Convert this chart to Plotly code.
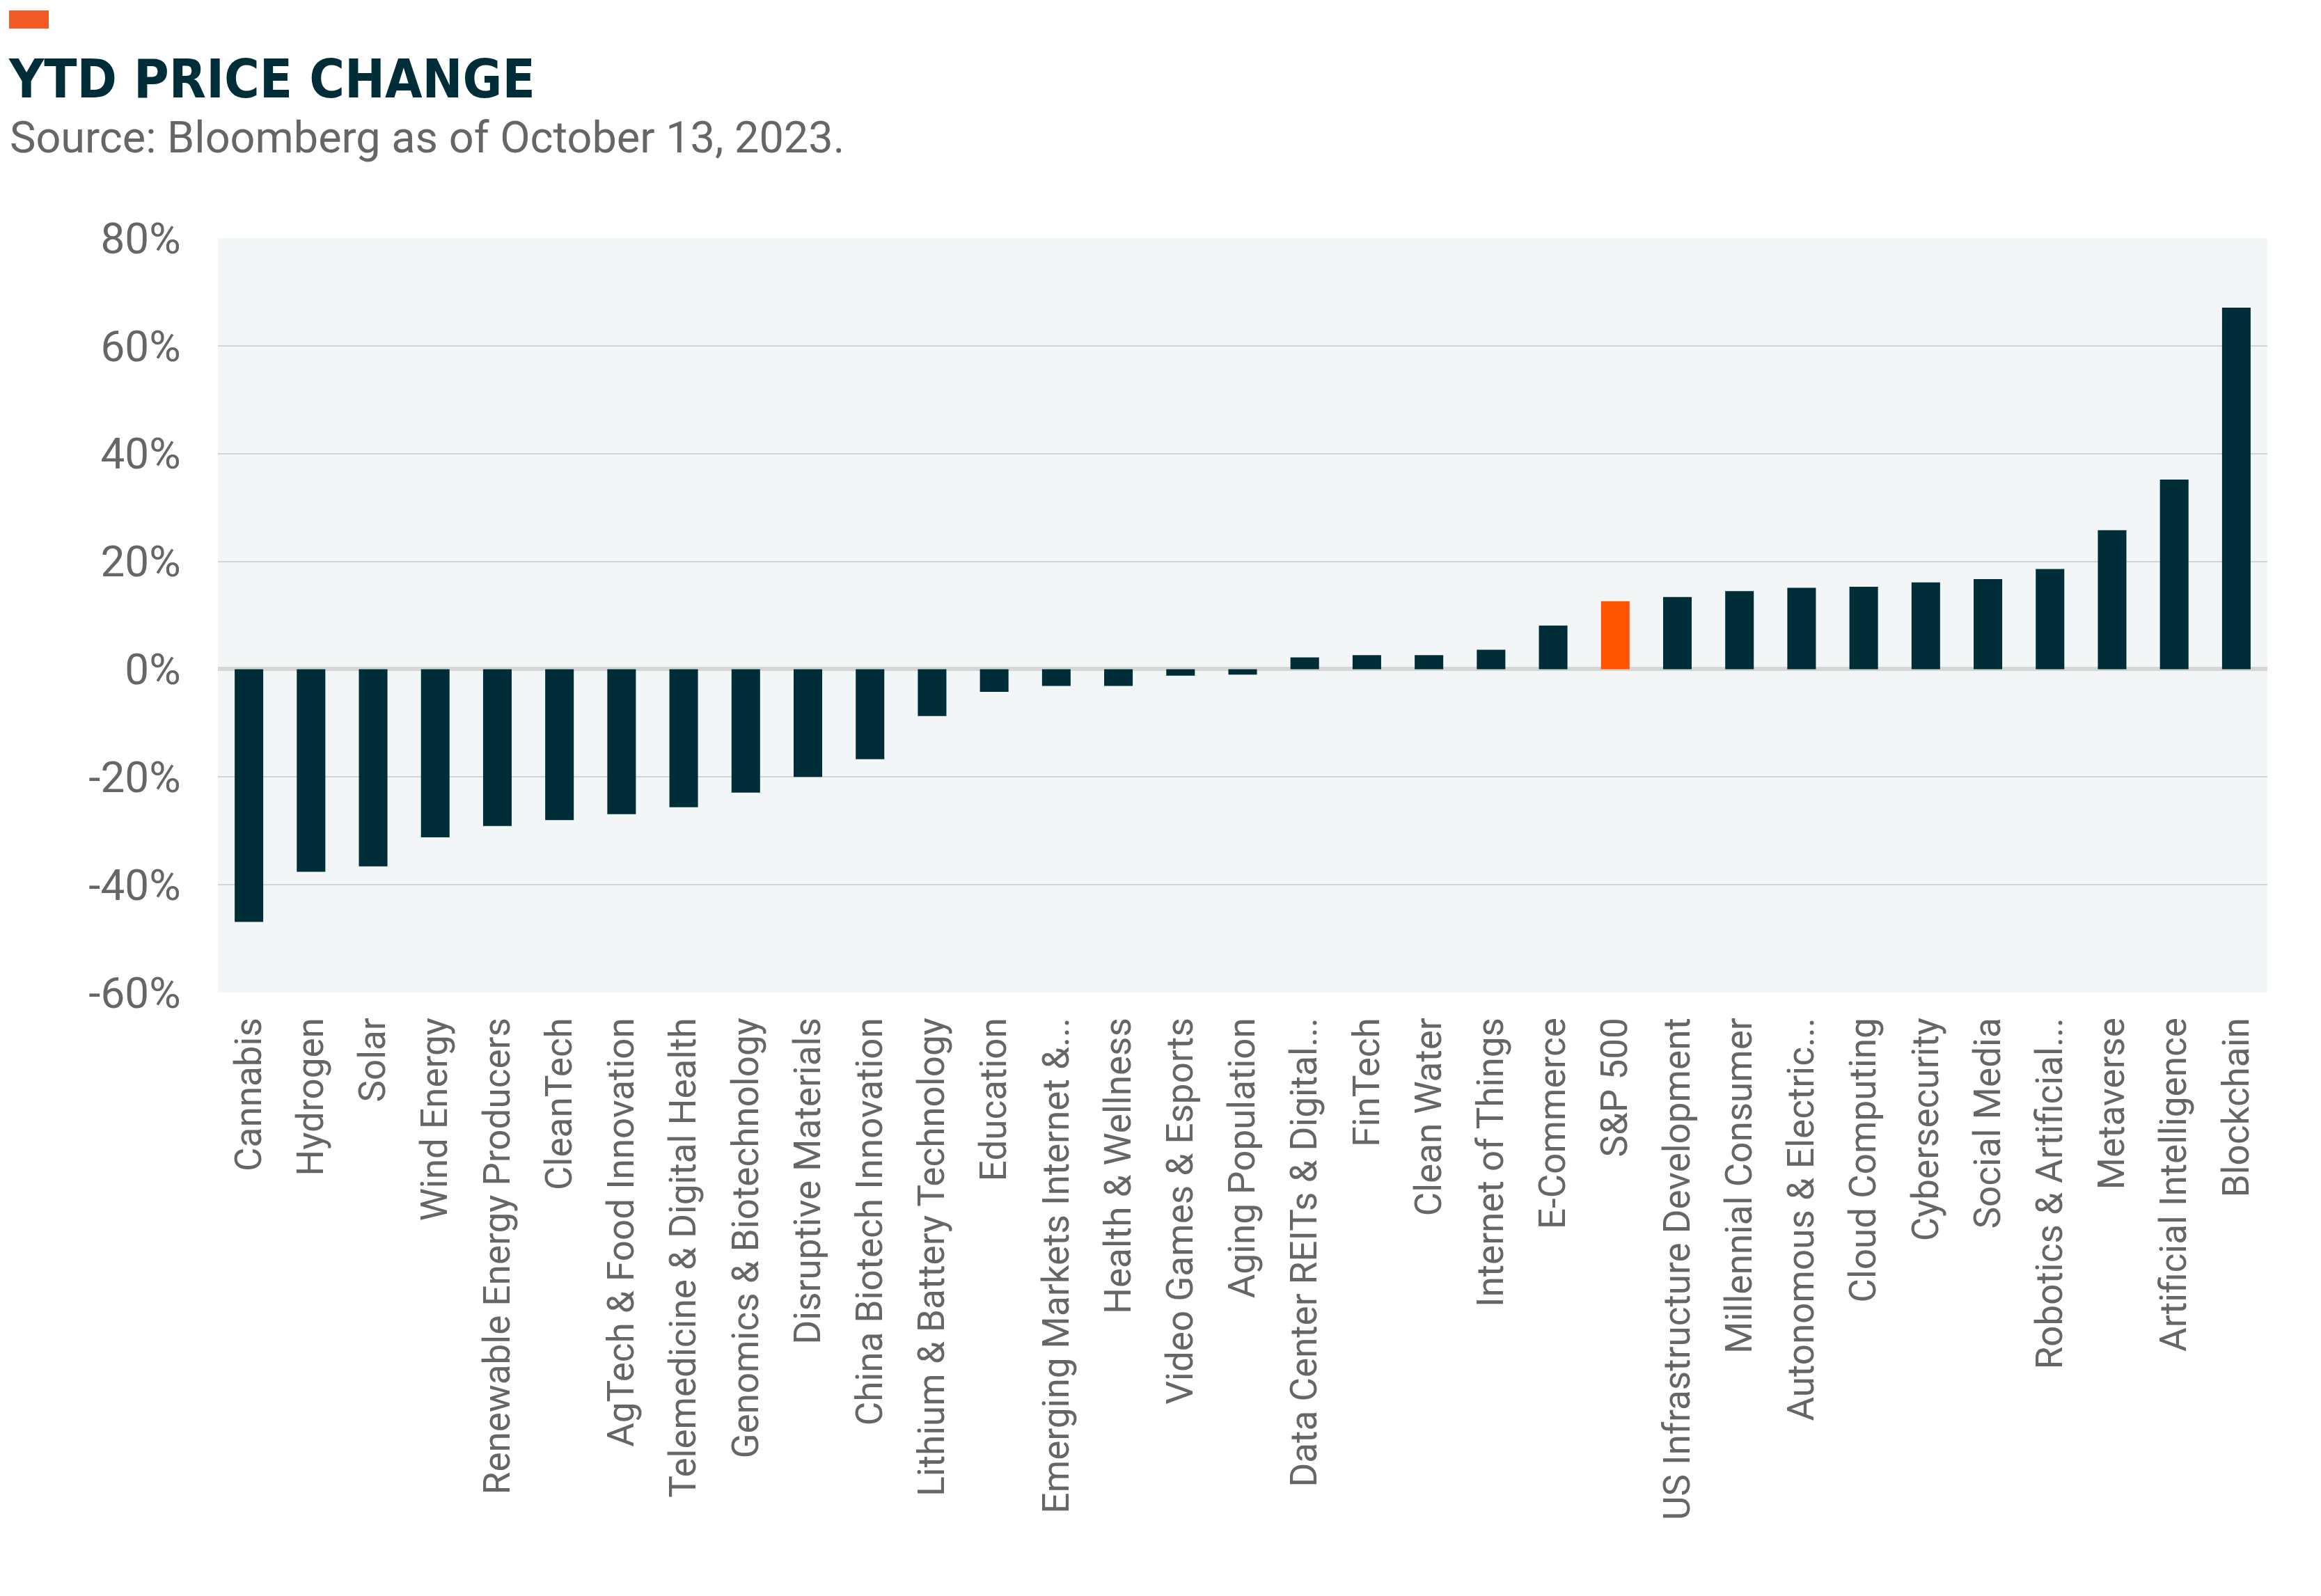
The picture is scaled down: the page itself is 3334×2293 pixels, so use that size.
import plotly.graph_objects as go

categories = [
    "Cannabis", "Hydrogen", "Solar", "Wind Energy", "Renewable Energy Producers",
    "CleanTech", "AgTech & Food Innovation", "Telemedicine & Digital Health",
    "Genomics & Biotechnology", "Disruptive Materials", "China Biotech Innovation",
    "Lithium & Battery Technology", "Education", "Emerging Markets Internet &...",
    "Health & Wellness", "Video Games & Esports", "Aging Population",
    "Data Center REITs & Digital...", "FinTech", "Clean Water", "Internet of Things",
    "E-Commerce", "S&P 500", "US Infrastructure Development", "Millennial Consumer",
    "Autonomous & Electric...", "Cloud Computing", "Cybersecurity", "Social Media",
    "Robotics & Artificial...", "Metaverse", "Artificial Intelligence", "Blockchain",
]
ytd_change = [
    -46.9, -37.6, -36.6, -31.2, -29.1, -28.0, -26.9, -25.6, -22.9, -20.0, -16.7,
    -8.7, -4.2, -3.1, -3.1, -1.2, -1.0,
    2.2, 2.6, 2.6, 3.6, 8.1, 12.6, 13.4, 14.5, 15.1, 15.3, 16.1, 16.7, 18.6,
    25.8, 35.2, 67.1,
]
highlight = "S&P 500"
tick_vals = [-60, -40, -20, 0, 20, 40, 60, 80]

W, H = 3334, 2293
L, R, T, B = 305, 85, 334, 875
pw, ph = W - L - R, H - T - B

def px_x(x):
    return (x - L) / pw

def px_y(y):
    return (H - B - y) / ph

bar_color = "#002e38"
hi_color = "#ff5500"
colors = [hi_color if c == highlight else bar_color for c in categories]

fig = go.Figure(go.Bar(
    x=categories, y=ytd_change, marker=dict(color=colors, line=dict(width=0)),
    hoverinfo="x+y",
))

fig.update_layout(
    width=W, height=H,
    margin=dict(l=L, r=R, t=T, b=B, autoexpand=False),
    paper_bgcolor="white", plot_bgcolor="#f2f6f7",
    bargap=0.54, showlegend=False,
    font=dict(family="Roboto, Arial, sans-serif", color="#666666"),
)
fig.update_yaxes(
    range=[-60, 80], tickvals=tick_vals, ticktext=[f"{v}%" for v in tick_vals],
    showgrid=True, gridcolor="#d2d4d5", gridwidth=2,
    zeroline=True, zerolinecolor="#d6d6d6", zerolinewidth=6,
    tickfont=dict(size=62, color="#666666", family="Roboto, Arial, sans-serif"),
    ticks="outside", ticklen=40, tickcolor="rgba(0,0,0,0)", showline=False,
)
fig.update_xaxes(
    tickangle=-90, tickfont=dict(size=53, color="#666666", family="Roboto, Arial, sans-serif"),
    ticks="outside", ticklen=14, tickcolor="rgba(0,0,0,0)", showline=False,
    showgrid=False, categoryorder="array", categoryarray=categories,
)

fig.add_shape(type="rect", xref="paper", yref="paper",
              x0=px_x(5), x1=px_x(62), y0=px_y(33), y1=px_y(7),
              fillcolor="#f15a24", line=dict(width=0))
fig.add_annotation(
    text="<b>YTD PRICE CHANGE</b>", xref="paper", yref="paper",
    x=px_x(2), y=px_y(106), xanchor="left", yanchor="middle", showarrow=False,
    font=dict(family="DejaVu Sans Condensed, DejaVu Sans", size=77, color="#002e38"),
)
fig.add_annotation(
    text="Source: Bloomberg as of October 13, 2023.", xref="paper", yref="paper",
    x=px_x(4), y=px_y(189), xanchor="left", yanchor="middle", showarrow=False,
    font=dict(family="Roboto, Arial, sans-serif", size=63, color="#666666"),
)

fig.write_html("out.html")
